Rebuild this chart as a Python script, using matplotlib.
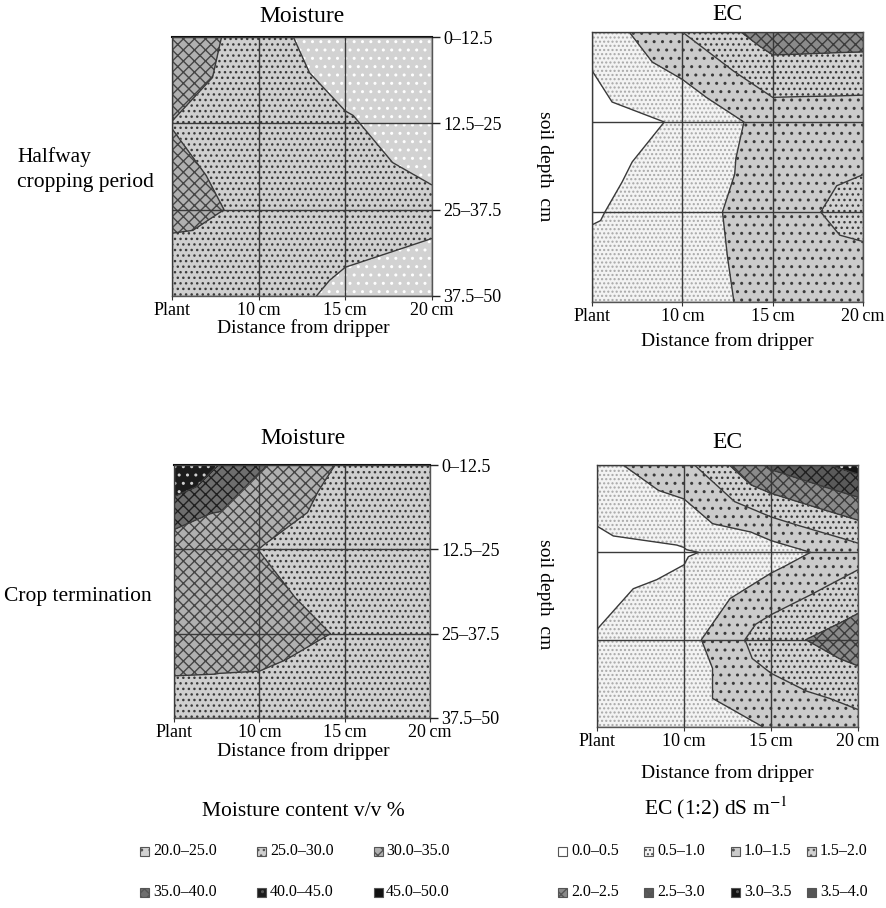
import numpy as np
import matplotlib
matplotlib.use('Agg')
import matplotlib.pyplot as plt
import matplotlib.tri as mtri
from matplotlib.patches import Rectangle

plt.rcParams['font.family'] = ['Liberation Serif', 'DejaVu Serif']
plt.rcParams['mathtext.fontset'] = 'stix'

# ---------------- data ----------------
distance_labels = ['Plant', '10\u2009cm', '15\u2009cm', '20\u2009cm']
depth_labels = ['0–12.5', '12.5–25', '25–37.5', '37.5–50']

# rows: depth (top -> bottom), columns: distance (Plant -> 20 cm)
moisture_halfway = [
    [34.0, 27.0, 22.0, 21.0],
    [29.9, 28.0, 25.5, 22.5],
    [31.5, 29.0, 27.0, 26.0],
    [26.0, 27.0, 24.0, 23.0],
]
ec_halfway = [
    [0.65, 1.50, 2.27, 2.23],
    [0.30, 0.55, 1.21, 1.19],
    [0.45, 0.80, 1.25, 1.72],
    [0.80, 0.80, 1.15, 1.05],
]
moisture_termination = [
    [44.8, 35.5, 29.3, 27.0],
    [32.0, 29.95, 27.0, 26.0],
    [33.0, 32.0, 29.6, 26.0],
    [27.0, 27.5, 26.0, 25.5],
]
ec_termination = [
    [0.85, 1.35, 2.60, 3.20],
    [0.35, 0.45, 0.75, 1.30],
    [0.52, 0.80, 1.80, 2.30],
    [0.60, 0.80, 1.02, 1.30],
]

moisture_levels = [20, 25, 30, 35, 40, 45, 50]
moisture_labels = ['20.0–25.0', '25.0–30.0', '30.0–35.0',
                   '35.0–40.0', '40.0–45.0', '45.0–50.0']
ec_levels = [0.0, 0.5, 1.0, 1.5, 2.0, 2.5, 3.0, 3.5, 4.0]
ec_labels = ['0.0–0.5', '0.5–1.0', '1.0–1.5', '1.5–2.0',
             '2.0–2.5', '2.5–3.0', '3.0–3.5', '3.5–4.0']

# (face colour, hatch, hatch colour)
moisture_styles = [
    ('#d2d2d2', '..', '#ffffff'),
    ('#cfcfcf', '...', '#3a3a3a'),
    ('#b0b0b0', 'xxx', '#454545'),
    ('#6e6e6e', 'xxx', '#202020'),
    ('#1c1c1c', '..', '#d0d0d0'),
    ('#111111', '', '#111111'),
]
ec_styles = [
    ('#ffffff', '', '#ffffff'),
    ('#f3f3f3', '....', '#a8a8a8'),
    ('#cbcbcb', '..', '#3a3a3a'),
    ('#d2d2d2', '...', '#3a3a3a'),
    ('#8a8a8a', 'xxx', '#3c3c3c'),
    ('#5a5a5a', 'xxx', '#202020'),
    ('#141414', '..', '#d8d8d8'),
    ('#555555', '', '#555555'),
]

W, H = 886, 908
fig = plt.figure(figsize=(W / 100, H / 100), dpi=100)


def px_axes(l, t, r, b):
    return fig.add_axes([l / W, 1 - b / H, (r - l) / W, (b - t) / H])


def triangulate(Z):
    Z = np.asarray(Z, float)
    ny, nx = Z.shape
    xs, ys, vs = [], [], []
    for j in range(ny):
        for i in range(nx):
            xs.append(i)
            ys.append(j)
            vs.append(Z[j, i])
    tris = []
    for j in range(ny - 1):
        for i in range(nx - 1):
            c = len(xs)
            xs.append(i + 0.5)
            ys.append(j + 0.5)
            vs.append(Z[j:j + 2, i:i + 2].mean())
            a = j * nx + i
            b = a + 1
            d = a + nx
            e = d + 1
            tris += [[a, b, c], [b, e, c], [e, d, c], [d, a, c]]
    return mtri.Triangulation(xs, ys, tris), np.array(vs)


def draw_panel(ax, Z, levels, styles, right_labels):
    tri, v = triangulate(Z)
    for k in range(len(levels) - 1):
        face, hatch, hc = styles[k]
        with plt.rc_context({'hatch.color': hc, 'hatch.linewidth': 1.0}):
            cs = ax.tricontourf(tri, v, levels=[levels[k], levels[k + 1]],
                                colors=[face], hatches=[hatch if hatch else None],
                                antialiased=False, zorder=1)
        if hasattr(cs, 'set_hatchcolor'):
            try:
                cs.set_hatchcolor(hc)
            except Exception:
                pass
    ax.tricontour(tri, v, levels=levels[1:-1], colors='#3a3a3a',
                  linewidths=1.0, zorder=2)
    ax.set_xlim(0, 3)
    ax.set_ylim(3, 0)
    ax.set_xticks(range(4))
    ax.set_xticklabels(distance_labels, fontsize=13)
    ax.set_yticks(range(4))
    ax.grid(True, color='#3a3a3a', lw=1.0)
    ax.set_axisbelow(False)
    for s in ax.spines.values():
        s.set_color('#555555')
        s.set_linewidth(1.0)
    ax.tick_params(axis='x', length=3, width=0.8, pad=1, color='#333333')
    if right_labels:
        ax.yaxis.tick_right()
        ax.set_yticklabels(depth_labels, fontsize=13)
        ax.tick_params(axis='y', length=6, width=1.0, pad=2, direction='out',
                       color='#222222')
        ax.spines['top'].set_color('#111111')
        ax.spines['top'].set_linewidth(1.5)
    else:
        ax.tick_params(axis='y', left=False, right=False, labelleft=False)


ax_tl = px_axes(172, 37, 432, 296)
ax_tr = px_axes(592, 32, 863, 302)
ax_bl = px_axes(174, 465, 430, 718)
ax_br = px_axes(597, 465, 858, 727)

draw_panel(ax_tl, moisture_halfway, moisture_levels, moisture_styles, True)
draw_panel(ax_tr, ec_halfway, ec_levels, ec_styles, False)
draw_panel(ax_bl, moisture_termination, moisture_levels, moisture_styles, True)
draw_panel(ax_br, ec_termination, ec_levels, ec_styles, False)

# ---------------- overlay for text and legends (pixel coords) ----------------
ov = fig.add_axes([0, 0, 1, 1])
ov.set_xlim(0, W)
ov.set_ylim(H, 0)
ov.axis('off')


def T(x, y, s, size, ha='center', va='center', **kw):
    ov.text(x, y, s, fontsize=size, ha=ha, va=va, **kw)


T(302, 16, 'Moisture', 17)
T(727, 14, 'EC', 17)
T(303, 438, 'Moisture', 17)
T(727, 443, 'EC', 17)

T(303, 328, 'Distance from dripper', 14)
T(727, 341, 'Distance from dripper', 14)
T(303, 751, 'Distance from dripper', 14)
T(727, 773, 'Distance from dripper', 14)

T(545, 166, 'soil depth  cm', 14, rotation=270)
T(545, 594, 'soil depth  cm', 14, rotation=270)

T(17, 157, 'Halfway', 15.5, ha='left')
T(17, 182, 'cropping period', 15.5, ha='left')
T(4, 597, 'Crop termination', 15.5, ha='left')

T(303, 812, 'Moisture content v/v %', 15.5)
T(716, 808, 'EC (1:2) dS m$^{-1}$', 15.5)


def legend_item(x_sq, x_txt, y, style, label):
    face, hatch, hc = style
    with plt.rc_context({'hatch.color': hc, 'hatch.linewidth': 1.0}):
        r = Rectangle((x_sq, y - 4.5), 9, 9, facecolor=face,
                      hatch=hatch if hatch else None, edgecolor='#555555',
                      lw=0.8)
    ov.add_patch(r)
    T(x_txt, y, label, 11.5, ha='left')


m_sq = [140, 257, 374]
m_tx = [153, 270, 386]
m_rows = [851, 892]
for k, (st, lab) in enumerate(zip(moisture_styles, moisture_labels)):
    legend_item(m_sq[k % 3], m_tx[k % 3], m_rows[k // 3], st, lab)

e_sq = [558, 644, 731, 807]
e_tx = [571, 657, 744, 820]
e_rows = [851, 892]
for k, (st, lab) in enumerate(zip(ec_styles, ec_labels)):
    legend_item(e_sq[k % 4], e_tx[k % 4], e_rows[k // 4], st, lab)

fig.savefig('out.png', dpi=100)
